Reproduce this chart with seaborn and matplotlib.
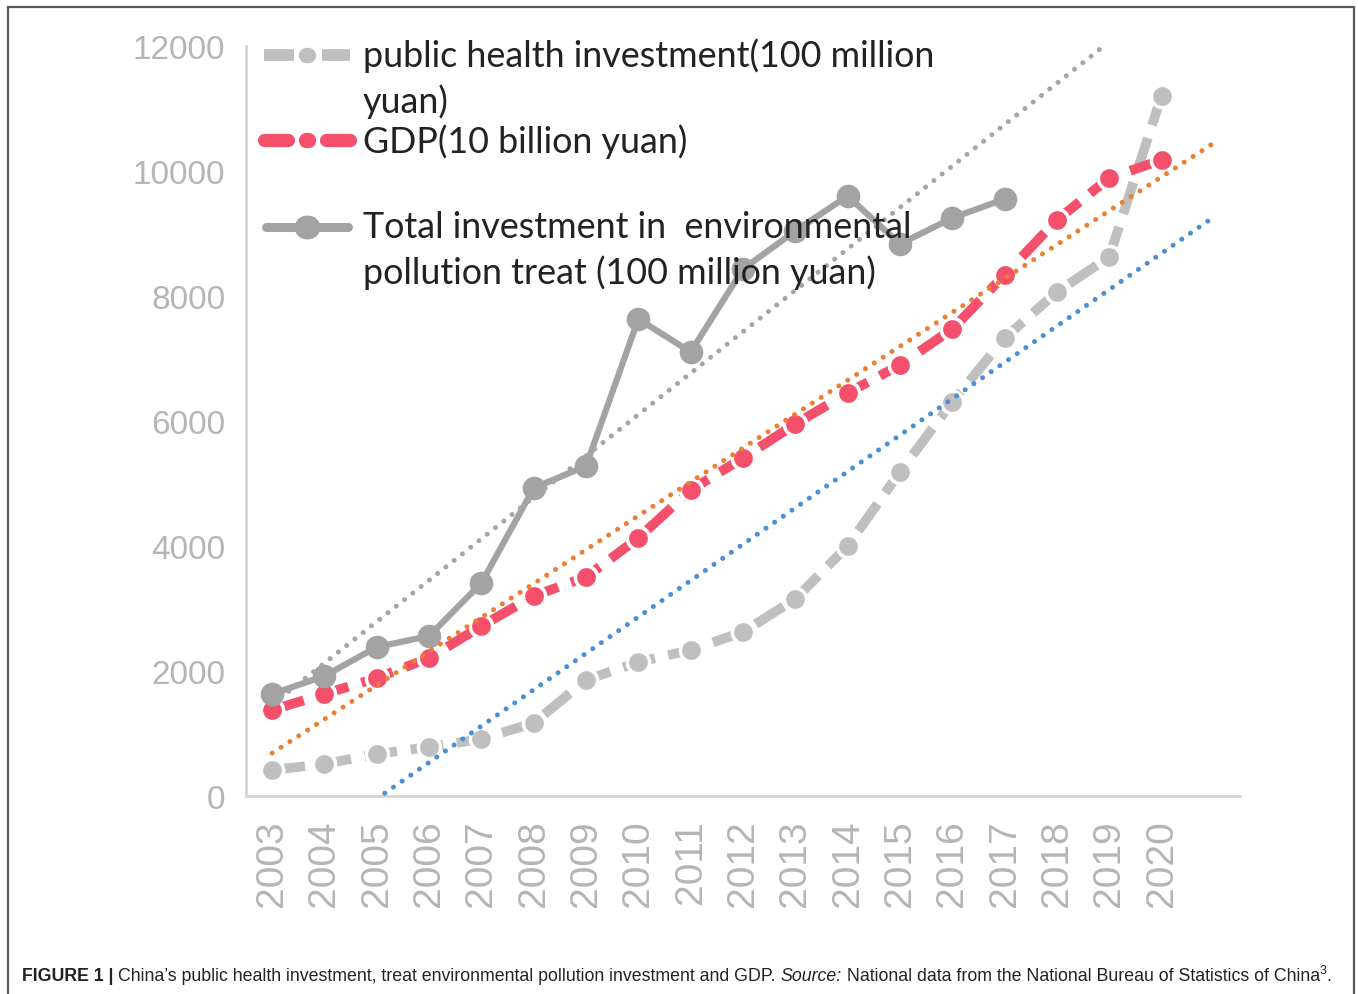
import numpy as np
import pandas as pd
import matplotlib
matplotlib.use("Agg")
import matplotlib.pyplot as plt
import seaborn as sns
from matplotlib.lines import Line2D
from matplotlib.patches import Rectangle
from matplotlib import font_manager as fm

# ---------------- data ----------------
years = [str(y) for y in range(2003, 2021)]
health = [416, 512, 672, 784, 912, 1168, 1856, 2144, 2336, 2624, 3152, 4000,
          5184, 6304, 7328, 8064, 8624, 11200]
gdp = [1376, 1632, 1888, 2208, 2720, 3200, 3504, 4128, 4896, 5408, 5952, 6448,
       6896, 7472, 8336, 9216, 9888, 10176]
pollution = [1632, 1920, 2384, 2560, 3408, 4928, 5280, 7632, 7104, 8432, 9040,
             9600, 8832, 9248, 9552]
y_ticks = [0, 2000, 4000, 6000, 8000, 10000, 12000]
legend_labels = [
    ["public health investment(100 million", "yuan)"],
    ["GDP(10 billion yuan)"],
    ["Total investment in  environmental", "pollution treat (100 million yuan)"],
]

# ---------------- style ----------------
sns.set_theme(style="white")
names = {f.name for f in fm.fontManager.ttflist}
TICK_FONT = "Liberation Sans"
LEG_FONT = "Lato" if "Lato" in names else "DejaVu Sans"
CAP_FONT = "Liberation Sans Narrow" if "Liberation Sans Narrow" in names else "Liberation Sans"
plt.rcParams["font.family"] = [TICK_FONT, "DejaVu Sans"]

C_HEALTH = "#BFBFBF"
C_GDP = "#F4506B"
C_POLL = "#A3A3A3"
C_T_GRAY = "#A5A5A5"
C_T_ORANGE = "#ED7D31"
C_T_BLUE = "#4A8FD6"
C_TICK = "#B5B5B5"
C_SPINE = "#D6D6D6"

W, H = 1358, 995
fig = plt.figure(figsize=(W / 100, H / 100), dpi=100)
fig.patch.set_facecolor("white")

def fx(px):
    return px / W

def fy(py):
    return 1 - py / H

ax = fig.add_axes([fx(246), fy(797), fx(1240) - fx(246), fy(47) - fy(797)])
ax.set_facecolor("white")

idx = np.arange(len(years))
df = pd.DataFrame({
    "idx": idx,
    "health": health,
    "gdp": gdp,
    "pollution": pollution + [np.nan] * (len(years) - len(pollution)),
})

# ---------------- main series ----------------
sns.lineplot(data=df, x="idx", y="health", ax=ax, color=C_HEALTH, linewidth=7,
             linestyle=(0, (3.4, 1.4)), marker="o", markersize=16,
             markerfacecolor=C_HEALTH, markeredgecolor="white",
             markeredgewidth=2.5, zorder=2)
sns.lineplot(data=df, x="idx", y="gdp", ax=ax, color=C_GDP, linewidth=7,
             linestyle=(0, (3.4, 1.4)), marker="o", markersize=16,
             markerfacecolor=C_GDP, markeredgecolor="white",
             markeredgewidth=2.5, zorder=3)
sns.lineplot(data=df, x="idx", y="pollution", ax=ax, color=C_POLL, linewidth=4.5,
             marker="o", markersize=17, markerfacecolor=C_POLL,
             markeredgecolor=C_POLL, markeredgewidth=0, zorder=4)

# ---------------- linear trendlines (forecast forward one period) ----------------
x_end = len(years)  # one period forward
for col, colr in [("pollution", C_T_GRAY), ("gdp", C_T_ORANGE), ("health", C_T_BLUE)]:
    sub = df.dropna(subset=[col])
    k, b = np.polyfit(sub["idx"], sub[col], 1)
    xt = np.array([0.0, float(x_end)])
    tr = pd.DataFrame({"x": xt, "y": k * xt + b})
    sns.lineplot(data=tr, x="x", y="y", ax=ax, color=colr, linewidth=3.6,
                 linestyle=(0, (0.01, 2.1)), dash_capstyle="round", zorder=5)

# ---------------- axes ----------------
ax.set_xlim(-0.5, len(years) + 0.5)
ax.set_ylim(0, 12000)
ax.set_yticks(y_ticks)
ax.set_yticklabels([str(v) for v in y_ticks])
ax.set_xticks(idx)
ax.set_xticklabels(years, rotation=90)
ax.set_xlabel("")
ax.set_ylabel("")
ax.tick_params(axis="y", length=0, pad=15, labelsize=24, labelcolor=C_TICK)
ax.tick_params(axis="x", length=0, pad=17, labelsize=28, labelcolor=C_TICK)
for lab in ax.get_xticklabels() + ax.get_yticklabels():
    lab.set_fontfamily(TICK_FONT)
for s in ["top", "right"]:
    ax.spines[s].set_visible(False)
for s in ["left", "bottom"]:
    ax.spines[s].set_color(C_SPINE)
    ax.spines[s].set_linewidth(2)
ax.grid(False)

# ---------------- legend (drawn in figure pixels) ----------------
def hline(x0, x1, y, **kw):
    fig.add_artist(Line2D([fx(x0), fx(x1)], [fy(y), fy(y)], transform=fig.transFigure, **kw))

# health handle: dash - dot - dash
hline(264, 294, 56, color=C_HEALTH, lw=8.5, solid_capstyle="butt")
hline(306, 308, 56, color=C_HEALTH, lw=0, marker="o", markersize=11, markeredgewidth=0)
hline(322, 350, 56, color=C_HEALTH, lw=8.5, solid_capstyle="butt")
# gdp handle
hline(264, 288, 141, color=C_GDP, lw=9.5, solid_capstyle="round")
hline(306, 308, 141, color=C_GDP, lw=0, marker="o", markersize=11, markeredgewidth=0)
hline(326, 350, 141, color=C_GDP, lw=9.5, solid_capstyle="round")
# pollution handle
hline(266, 348, 228, color=C_POLL, lw=6.5, solid_capstyle="round")
hline(306, 308, 228, color=C_POLL, lw=0, marker="o", markersize=17, markeredgewidth=0)

renderer = fig.canvas.get_renderer()

# fit legend font so the first line spans ~572 px
probe = fig.text(0, 0, legend_labels[0][0], fontsize=24, family=LEG_FONT)
wpx = probe.get_window_extent(renderer).width
leg_size = 24 * 572 / wpx
probe.remove()

baselines = [[67, 113], [153], [238, 284]]
for lines, bls in zip(legend_labels, baselines):
    for line, bl in zip(lines, bls):
        fig.text(fx(363), fy(bl), line, fontsize=leg_size, family=LEG_FONT,
                 color="#222222", va="baseline", ha="left")

# ---------------- frame ----------------
fig.add_artist(Rectangle((fx(8), -0.02), fx(1354) - fx(8), fy(8) + 0.02,
                         transform=fig.transFigure, fill=False,
                         edgecolor="#5a5a5a", lw=1.6))

# ---------------- caption ----------------
pieces = [
    ("FIGURE 1 | ", "bold", "normal", 1.0, 0),
    ("China\u2019s public health investment, treat environmental pollution investment and GDP. ", "normal", "normal", 1.0, 0),
    ("Source:", "normal", "italic", 1.0, 0),
    (" National data from the National Bureau of Statistics of China", "normal", "normal", 1.0, 0),
    ("3", "normal", "normal", 0.7, 7),
    (".", "normal", "normal", 1.0, 0),
]
base = 14.0
total = 0
for txt, wt, st, sc, rise in pieces:
    t = fig.text(0, 0, txt, fontsize=base * sc, weight=wt, style=st, family=CAP_FONT)
    total += t.get_window_extent(renderer).width
    t.remove()
cap_size = base * (1318 / total)
x = 22
for txt, wt, st, sc, rise in pieces:
    t = fig.text(fx(x), fy(981 - rise), txt, fontsize=cap_size * sc, weight=wt, style=st,
                 family=CAP_FONT, color="#222222", va="baseline", ha="left")
    x += t.get_window_extent(renderer).width

fig.savefig("out.png", dpi=100, facecolor="white")
